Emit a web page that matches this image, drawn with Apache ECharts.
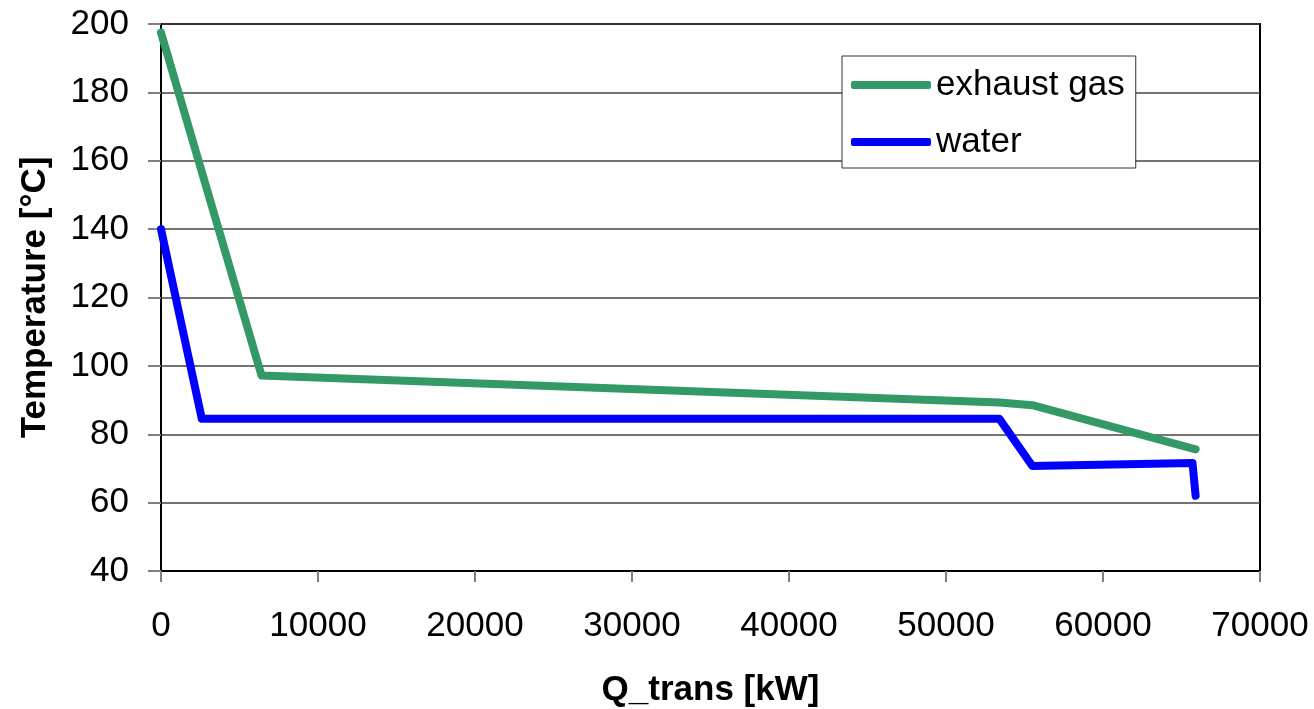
<!DOCTYPE html>
<html>
<head>
<meta charset="utf-8">
<script src="https://cdn.jsdelivr.net/npm/echarts@6/dist/echarts.min.js"></script>
<style>
html,body{margin:0;padding:0;background:#fff;}
#chart{width:1314px;height:709px;}
</style>
</head>
<body>
<div id="chart"></div>
<script>
const seriesNames = ['exhaust gas', 'water'];
const exhaustGas = [[0, 197.5], [6400, 97.2], [53400, 89.3], [55500, 88.5], [65900, 75.6]];
const water = [[0, 140], [2600, 84.5], [53400, 84.5], [55500, 70.7], [65700, 71.6], [65900, 62]];
const xTicks = { min: 0, max: 70000, interval: 10000 };
const yTicks = { min: 40, max: 200, interval: 20 };
const xTitle = 'Q_trans [kW]';
const yTitle = 'Temperature [°C]';
const colors = ['#339966', '#0000ff'];

const font = 'Liberation Sans, Arial, sans-serif';
const chart = echarts.init(document.getElementById('chart'), null, { renderer: 'canvas' });
chart.setOption({
  animation: false,
  backgroundColor: '#ffffff',
  color: colors,
  grid: {
    left: 161, right: 54, top: 24, bottom: 138,
    outerBoundsMode: 'none', containLabel: false,
    show: true, borderColor: '#000', borderWidth: 2, backgroundColor: 'transparent'
  },
  legend: {
    show: true,
    orient: 'vertical',
    left: 842, top: 56,
    backgroundColor: '#fff',
    borderColor: '#333', borderWidth: 1, borderRadius: 0,
    padding: [9, 11, 6, 9],
    icon: 'roundRect',
    itemWidth: 80, itemHeight: 8, itemGap: 17,
    textStyle: { fontFamily: font, fontSize: 35, color: '#000', lineHeight: 40 },
    data: seriesNames
  },
  xAxis: {
    type: 'value', min: xTicks.min, max: xTicks.max, interval: xTicks.interval,
    name: xTitle, nameLocation: 'middle', nameGap: 102,
    nameTextStyle: { fontFamily: font, fontSize: 35, fontWeight: 'bold', color: '#000' },
    axisLine: { show: true, onZero: false, lineStyle: { color: '#000', width: 2 } },
    axisTick: { show: true, inside: false, length: 11, lineStyle: { color: '#808080', width: 2 } },
    axisLabel: { fontFamily: font, fontSize: 35, color: '#000', margin: 38, formatter: function (v) { return String(v); } },
    splitLine: { show: false }
  },
  yAxis: {
    type: 'value', min: yTicks.min, max: yTicks.max, interval: yTicks.interval,
    name: yTitle, nameLocation: 'middle', nameGap: 108,
    nameTextStyle: { fontFamily: font, fontSize: 35, fontWeight: 'bold', color: '#000' },
    axisLine: { show: true, onZero: false, lineStyle: { color: '#000', width: 2 } },
    axisTick: { show: true, inside: false, length: 13, lineStyle: { color: '#808080', width: 2 } },
    axisLabel: { fontFamily: font, fontSize: 35, color: '#000', margin: 32, formatter: function (v) { return String(v); } },
    splitLine: { show: true, lineStyle: { color: '#444', width: 1.5 } }
  },
  series: [
    {
      name: seriesNames[0], type: 'line', data: exhaustGas, symbol: 'none',
      lineStyle: { color: colors[0], width: 8, cap: 'round', join: 'round' },
      itemStyle: { color: colors[0] }
    },
    {
      name: seriesNames[1], type: 'line', data: water, symbol: 'none',
      lineStyle: { color: colors[1], width: 8, cap: 'round', join: 'round' },
      itemStyle: { color: colors[1] }
    }
  ]
});
</script>
</body>
</html>
